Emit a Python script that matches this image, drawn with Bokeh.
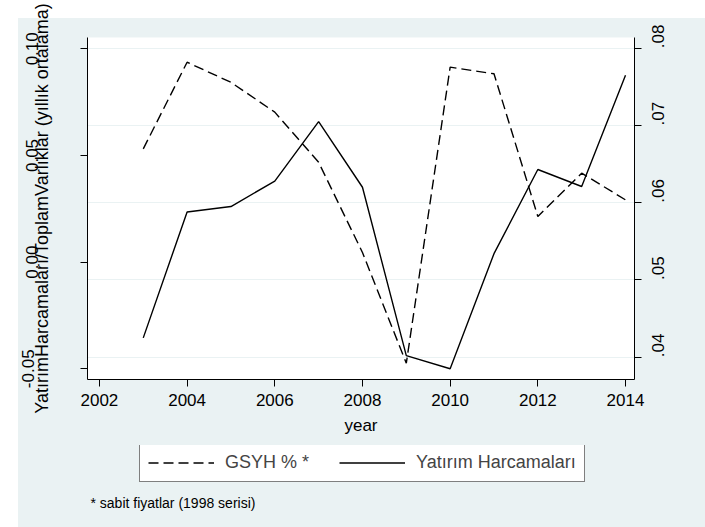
import math
from bokeh.plotting import figure
from bokeh.layouts import column
from bokeh.models import (Range1d, LinearAxis, FixedTicker, CustomJSTickFormatter,
                          Grid, Legend, LegendItem, Label)
from bokeh.embed import file_html
from bokeh.resources import INLINE

# ---- data ----
years = [2003, 2004, 2005, 2006, 2007, 2008, 2009, 2010, 2011, 2012, 2013, 2014]
gsyh = [0.0531, 0.0937, 0.0843, 0.0703, 0.0468, 0.0045, -0.0474, 0.0914, 0.0883, 0.0214, 0.0417, 0.0292]
yatirim = [0.0425, 0.0588, 0.0595, 0.0628, 0.0705, 0.0620, 0.0402, 0.0385, 0.0534, 0.0643, 0.0621, 0.0765]

x_ticks = [2002, 2004, 2006, 2008, 2010, 2012, 2014]
left_ticks = [0.0, 0.05, 0.10]
left_low_ticks = [-0.05]
right_ticks = [0.04, 0.05, 0.06, 0.07, 0.08]

left_title = "YatırımHarcamaları/ToplamVarlıklar (yıllık ortalama)"
x_title = "year"
legend_labels = ["GSYH % *", "Yatırım Harcamaları"]
note = "* sabit fiyatlar (1998 serisi)"

BG = "#EAF2F3"
FONT = "Liberation Sans"


def bg_styles(dx, dy):
    return {
        "background-image": "linear-gradient(%s, %s)" % (BG, BG),
        "background-position": "%dpx %dpx" % (dx, dy),
        "background-size": "100% 100%",
        "background-repeat": "no-repeat",
    }


# ---------------- main chart ----------------
p = figure(width=705, height=445, output_backend="svg", toolbar_location=None,
           x_range=Range1d(2001.728, 2014.205), y_range=Range1d(-0.05502, 0.10530),
           min_border_left=87, min_border_right=71, min_border_top=37, min_border_bottom=66)
p.extra_y_ranges = {"r": Range1d(0.037113, 0.081385)}

p.border_fill_color = None
p.background_fill_color = "white"
p.outline_line_color = None
p.styles = bg_styles(18, 18)
p.xgrid.visible = False
p.ygrid.visible = False

g = Grid(dimension=1, ticker=FixedTicker(ticks=right_ticks), y_range_name="r",
         grid_line_color=BG, grid_line_width=1.2)
p.add_layout(g)

xa = p.xaxis[0]
xa.ticker = FixedTicker(ticks=x_ticks)
xa.axis_label = x_title
xa.major_label_standoff = 7
xa.axis_label_standoff = 7

# inner left axis: line, all tick marks, labels 0.00..0.10, title
ya = p.yaxis[0]
ya.ticker = FixedTicker(ticks=left_low_ticks + left_ticks)
ya.formatter = CustomJSTickFormatter(code="return tick < -0.01 ? '' : tick.toFixed(2);")
ya.axis_label = left_title
ya.major_label_orientation = "vertical"
ya.major_label_standoff = 42
ya.axis_label_standoff = -28

# outer left axis: only the -0.05 label (sits further left in the reference)
ya2 = LinearAxis(ticker=FixedTicker(ticks=left_low_ticks),
                 formatter=CustomJSTickFormatter(code="return tick.toFixed(2);"))
ya2.major_label_orientation = "vertical"
ya2.major_label_standoff = -6
ya2.axis_line_color = None
ya2.major_tick_line_color = None
ya2.major_tick_out = 0
ya2.major_tick_in = 0
ya2.minor_tick_line_color = None
ya2.major_label_text_font = FONT
ya2.major_label_text_font_size = "17px"
ya2.major_label_text_color = "black"
p.add_layout(ya2, "left")

ra = LinearAxis(y_range_name="r", ticker=FixedTicker(ticks=right_ticks),
                formatter=CustomJSTickFormatter(code="return tick.toFixed(2).replace(/^0/, '');"))
ra.major_label_orientation = math.pi / 2
ra.major_label_standoff = 17
p.add_layout(ra, "right")

for ax in [xa, ya, ra]:
    ax.axis_line_color = "black"
    ax.axis_line_width = 1
    ax.major_tick_line_color = "black"
    ax.major_tick_out = 7
    ax.major_tick_in = 0
    ax.minor_tick_line_color = None
    ax.major_label_text_font = FONT
    ax.major_label_text_font_size = "17px"
    ax.major_label_text_color = "black"
    ax.axis_label_text_font = FONT
    ax.axis_label_text_font_size = "17px"
    ax.axis_label_text_font_style = "normal"
    ax.axis_label_text_color = "black"
ya.axis_label_text_font_size = "18px"

r1 = p.line(years, gsyh, line_color="black", line_width=1.4, line_dash="10 5")
r2 = p.line(years, yatirim, line_color="black", line_width=1.4, y_range_name="r")

# ---------------- legend + note strip (frame aligned with the chart above) ----------------
q = figure(width=705, height=82, output_backend="svg", toolbar_location=None,
           min_border=0, x_axis_type=None, y_axis_type=None)
q.border_fill_color = None
q.background_fill_color = None
q.outline_line_color = None
q.grid.visible = False
q.styles = bg_styles(18, 0)

l1 = q.line(years, gsyh, line_color="black", line_width=1.4, line_dash="10 5", visible=False)
l2 = q.line(years, yatirim, line_color="black", line_width=1.4, visible=False)

legend = Legend(items=[LegendItem(label=legend_labels[0], renderers=[l1]),
                       LegendItem(label=legend_labels[1], renderers=[l2])],
                orientation="horizontal", location=(52, 45), margin=0,
                glyph_width=66, glyph_height=17, label_height=17, label_standoff=11,
                spacing=30, padding=8, label_text_font=FONT, label_text_font_size="18px",
                border_line_color="black", border_line_width=1,
                background_fill_color="white", background_fill_alpha=1.0,
                inactive_fill_alpha=0.0)
q.add_layout(legend)

q.add_layout(Label(x=3, y=25, x_units="screen", y_units="screen", text=note,
                   text_font=FONT, text_font_size="14px", text_baseline="alphabetic",
                   text_color="black"))

layout = column(p, q, spacing=0)
open("out.html", "w").write(file_html(layout, INLINE))
